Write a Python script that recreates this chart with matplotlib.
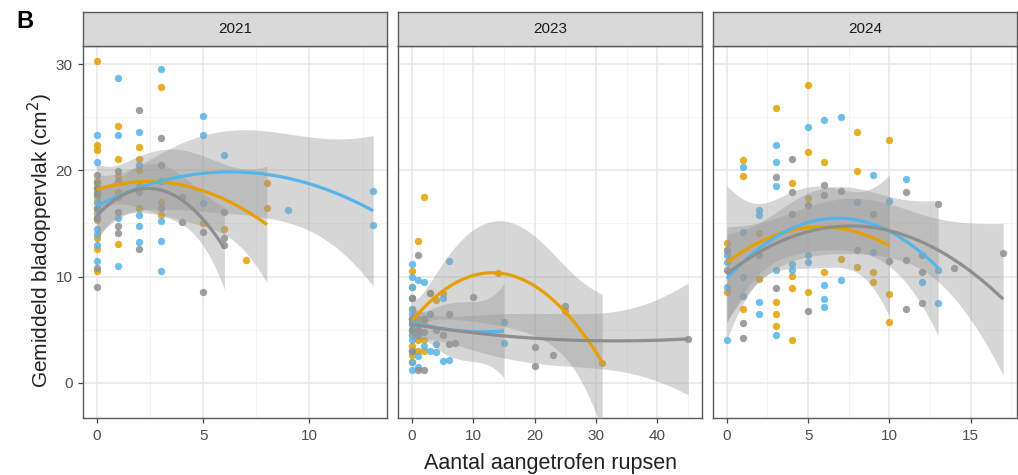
import numpy as np
import matplotlib
matplotlib.use("Agg")
import matplotlib.pyplot as plt

plt.rcParams['font.family'] = ['Liberation Sans', 'DejaVu Sans']

# ---------------- data ----------------
years = ["2021", "2023", "2024"]
colors = {"orange": "#E69F00", "blue": "#56B4E9", "gray": "#8E8E8E"}

# 2021
x21_orange = [0, 0, 0, 0, 0, 0, 0, 0, 0, 0, 0, 0, 1, 1, 1, 1, 1, 1, 2, 2, 2, 2, 2, 3, 3, 3, 5, 6, 7, 8, 8]
y21_orange = [30.3, 22.4, 21.9, 17.5, 15.3, 13.6, 12.6, 10.5, 16.0, 17.0, 18.3, 19.0, 24.2, 21.1, 13.1, 19.5, 17.5, 18.0, 22.2, 21.1, 20.0, 18.5, 16.5, 27.8, 17.0, 15.8, 15.0, 14.5, 11.6, 18.8, 16.5]
x21_blue = [0, 0, 0, 0, 0, 0, 0, 0, 0, 0, 1, 1, 1, 1, 2, 2, 2, 2, 2, 3, 3, 3, 3, 5, 5, 5, 6, 9, 13, 13]
y21_blue = [23.3, 20.8, 16.4, 14.5, 11.5, 18.0, 15.5, 13.0, 17.0, 14.0, 28.7, 23.3, 11.0, 15.5, 23.6, 20.5, 15.8, 14.8, 13.3, 29.5, 15.2, 13.4, 10.5, 25.1, 23.3, 16.9, 21.4, 16.3, 18.1, 14.9]
x21_gray = [0, 0, 0, 0, 0, 0, 0, 0, 1, 1, 1, 1, 1, 2, 2, 2, 3, 3, 3, 3, 4, 4, 5, 5, 6, 6, 6]
y21_gray = [19.6, 18.8, 18.3, 17.8, 16.5, 10.8, 9.0, 15.5, 19.9, 19.0, 16.1, 14.8, 14.1, 25.7, 12.6, 18.0, 23.0, 20.5, 16.5, 19.0, 15.1, 17.5, 14.2, 8.6, 16.1, 13.6, 13.0]

# 2023
x23_orange = [0, 0, 0, 0, 0, 0, 0, 0, 0, 0, 1, 1, 1, 1, 1, 2, 2, 2, 2, 3, 3, 4, 5, 14, 25, 31]
y23_orange = [2.6, 3.5, 5.0, 7.0, 9.0, 2.0, 4.5, 8.0, 10.5, 6.0, 13.4, 6.0, 4.0, 5.5, 3.0, 17.5, 5.5, 4.0, 3.0, 6.5, 8.5, 7.8, 8.5, 10.3, 6.8, 1.9]
x23_blue = [0, 0, 0, 0, 0, 0, 0, 0, 0, 0, 0, 0, 0, 0, 1, 1, 1, 1, 2, 2, 2, 3, 3, 4, 4, 5, 5, 6, 6, 15, 15]
y23_blue = [11.2, 10.0, 9.0, 8.0, 7.0, 6.0, 5.0, 4.0, 3.0, 2.0, 1.2, 6.5, 5.5, 4.5, 9.7, 5.0, 2.5, 1.5, 9.5, 6.0, 3.5, 6.5, 3.0, 3.7, 2.9, 2.1, 8.0, 11.5, 2.2, 5.7, 3.8]
x23_gray = [0, 0, 0, 0, 0, 1, 1, 1, 1, 2, 2, 2, 3, 4, 5, 6, 6, 7, 10, 20, 20, 23, 25, 45]
y23_gray = [8.0, 6.0, 5.0, 3.0, 5.5, 12.0, 1.2, 4.5, 5.0, 6.0, 1.2, 4.8, 8.5, 5.0, 4.5, 6.5, 3.7, 3.8, 8.1, 3.4, 1.6, 2.6, 7.2, 4.1]

# 2024
x24_orange = [0, 0, 1, 1, 1, 2, 2, 3, 3, 3, 3, 4, 4, 4, 4, 5, 5, 5, 5, 6, 6, 7, 8, 8, 8, 9, 9, 10, 10, 10]
y24_orange = [13.2, 8.6, 21.0, 19.5, 7.0, 14.1, 9.8, 25.9, 7.6, 5.4, 6.5, 18.8, 10.1, 8.9, 4.0, 28.0, 21.7, 17.4, 8.6, 20.8, 10.4, 11.7, 23.6, 19.9, 10.9, 10.4, 9.5, 22.9, 8.4, 5.7]
x24_blue = [0, 0, 0, 0, 1, 1, 1, 1, 2, 2, 2, 2, 3, 3, 3, 3, 3, 4, 4, 5, 5, 5, 6, 6, 6, 6, 7, 7, 8, 9, 9, 10, 11, 12, 13, 13]
y24_blue = [12.0, 11.4, 4.0, 9.0, 14.2, 8.2, 20.3, 10.0, 16.3, 15.8, 7.6, 6.5, 22.4, 20.8, 18.5, 10.6, 4.5, 11.2, 10.6, 24.1, 12.0, 11.4, 24.7, 9.2, 7.9, 7.1, 25.0, 9.7, 17.0, 19.6, 12.3, 17.1, 19.2, 9.5, 10.6, 7.5]
x24_gray = [0, 0, 1, 1, 2, 3, 3, 4, 4, 4, 5, 5, 6, 6, 7, 8, 9, 10, 11, 11, 11, 12, 12, 12, 13, 14, 17]
y24_gray = [10.6, 12.5, 5.6, 4.2, 12.0, 19.4, 8.9, 21.1, 18.0, 15.9, 16.7, 6.8, 18.6, 17.7, 18.1, 12.5, 15.9, 11.5, 18.0, 11.6, 7.0, 10.4, 7.5, 12.0, 16.8, 10.8, 12.2]

panels = {
    "2021": [("orange", x21_orange, y21_orange), ("blue", x21_blue, y21_blue), ("gray", x21_gray, y21_gray)],
    "2023": [("orange", x23_orange, y23_orange), ("blue", x23_blue, y23_blue), ("gray", x23_gray, y23_gray)],
    "2024": [("orange", x24_orange, y24_orange), ("blue", x24_blue, y24_blue), ("gray", x24_gray, y24_gray)],
}
x_major = {"2021": [0, 5, 10], "2023": [0, 10, 20, 30, 40], "2024": [0, 5, 10, 15]}
x_minor = {"2021": [2.5, 7.5, 12.5], "2023": [5, 15, 25, 35, 45], "2024": [2.5, 7.5, 12.5, 17.5]}
y_major = [0, 10, 20, 30]
y_minor = [5, 15, 25]

# ---------------- helpers ----------------
def t975(df):
    z = 1.959964
    return (z + (z**3 + z) / (4 * df) + (5 * z**5 + 16 * z**3 + 3 * z) / (96 * df**2)
            + (3 * z**7 + 19 * z**5 + 17 * z**3 - 15 * z) / (384 * df**3))

def quad_fit(x, y, n=80):
    x = np.asarray(x, float); y = np.asarray(y, float)
    X = np.column_stack([np.ones_like(x), x, x**2])
    beta, *_ = np.linalg.lstsq(X, y, rcond=None)
    res = y - X @ beta
    df = len(x) - 3
    s2 = res @ res / df
    XtXi = np.linalg.inv(X.T @ X)
    xs = np.linspace(x.min(), x.max(), n)
    Xs = np.column_stack([np.ones_like(xs), xs, xs**2])
    fit = Xs @ beta
    se = np.sqrt(np.einsum('ij,jk,ik->i', Xs, XtXi, Xs) * s2)
    t = t975(df)
    return xs, fit, fit - t * se, fit + t * se

W, H = 1018, 475
fig = plt.figure(figsize=(W / 100, H / 100), dpi=100)

def rect(l, r, t, b):
    return [l / W, 1 - b / H, (r - l) / W, (b - t) / H]

bounds = [(83, 387), (398, 702), (713, 1017)]
strip_top, panel_top, panel_bot = 12, 46, 418
border_col = "#5a5a5a"

for i, yr in enumerate(years):
    l, r = bounds[i]
    ax = fig.add_axes(rect(l, r, panel_top, panel_bot))
    allx = np.concatenate([np.asarray(g[1], float) for g in panels[yr]])
    span = allx.max() - allx.min()
    ax.set_xlim(allx.min() - 0.05 * span, allx.max() + 0.05 * span)
    ax.set_ylim(-3.3, 31.7)
    ax.set_facecolor("white")
    for v in x_minor[yr]:
        ax.axvline(v, color="#f2f2f2", lw=0.6, zorder=0)
    for v in y_minor:
        ax.axhline(v, color="#f2f2f2", lw=0.6, zorder=0)
    for v in x_major[yr]:
        ax.axvline(v, color="#e6e6e6", lw=1.1, zorder=0)
    for v in y_major:
        ax.axhline(v, color="#e6e6e6", lw=1.1, zorder=0)

    for name, xs_, ys_ in panels[yr]:
        ax.scatter(xs_, ys_, s=28, color=colors[name], alpha=0.85, linewidths=0, zorder=2)
    for name, xs_, ys_ in panels[yr]:
        xs, fit, lo, hi = quad_fit(xs_, ys_)
        ax.fill_between(xs, lo, hi, color="#999999", alpha=0.4, linewidth=0, zorder=3)
        ax.plot(xs, fit, color=colors[name], lw=2.3, zorder=4, solid_capstyle="butt")

    ax.set_xticks(x_major[yr])
    ax.set_yticks(y_major)
    ax.tick_params(axis="both", length=3.6, width=0.9, color="#444444",
                   labelcolor="#4d4d4d", labelsize=11, pad=4)
    if i > 0:
        ax.tick_params(axis="y", left=False, labelleft=False)
    for sp in ax.spines.values():
        sp.set_color(border_col)
        sp.set_linewidth(1.0)

    sax = fig.add_axes(rect(l, r, strip_top, panel_top))
    sax.set_xticks([]); sax.set_yticks([])
    sax.set_facecolor("#d9d9d9")
    for sp in sax.spines.values():
        sp.set_color(border_col)
        sp.set_linewidth(1.0)
    sax.text(0.5, 0.5, yr, ha="center", va="center", fontsize=11, color="#1a1a1a",
             transform=sax.transAxes)

fig.text(40 / W, 1 - 240 / H, "Gemiddeld bladoppervlak (cm$^2$)", rotation=90,
         ha="center", va="center", fontsize=15, color="#222222")
fig.text(550 / W, 1 - 463 / H, "Aantal aangetrofen rupsen", ha="center", va="center",
         fontsize=15.5, color="#222222")
fig.text(16 / W, 1 - 21 / H, "B", ha="left", va="center", fontsize=17,
         fontweight="bold", color="black")

fig.savefig("out.png", dpi=100)
